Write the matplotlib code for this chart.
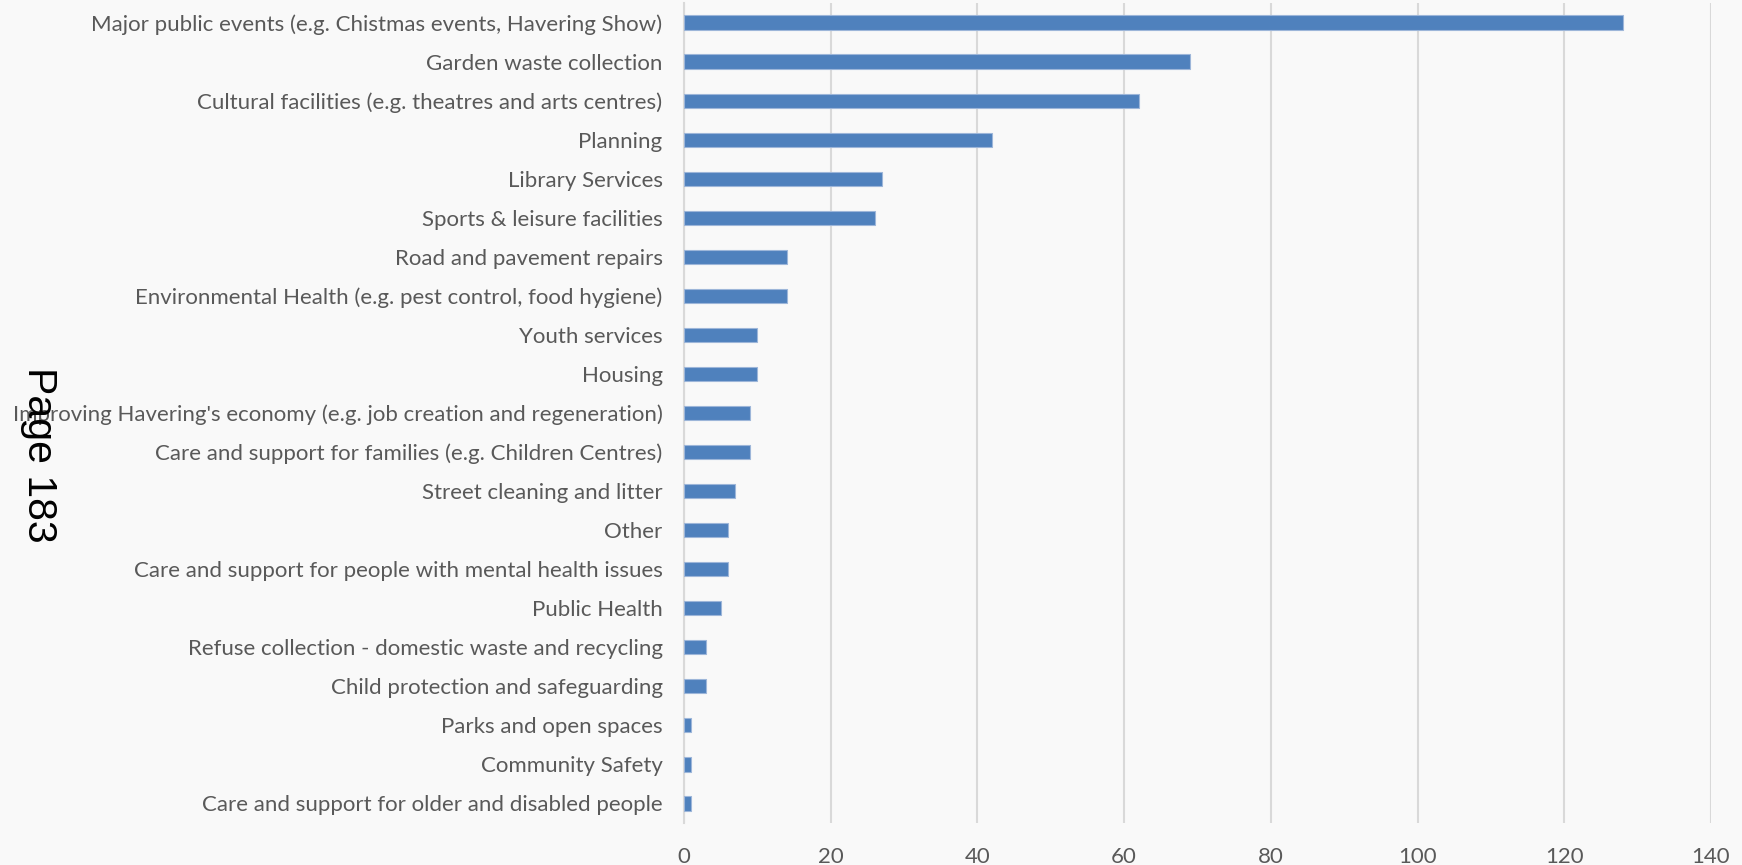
import matplotlib
matplotlib.use("Agg")
import matplotlib.pyplot as plt

# Services, listed top to bottom, and number of responses for each
services = [
    "Major public events (e.g. Chistmas events, Havering Show)",
    "Garden waste collection",
    "Cultural facilities (e.g. theatres and arts centres)",
    "Planning",
    "Library Services",
    "Sports & leisure facilities",
    "Road and pavement repairs",
    "Environmental Health (e.g. pest control, food hygiene)",
    "Youth services",
    "Housing",
    "Improving Havering's economy (e.g. job creation and regeneration)",
    "Care and support for families (e.g. Children Centres)",
    "Street cleaning and litter",
    "Other",
    "Care and support for people with mental health issues",
    "Public Health",
    "Refuse collection - domestic waste and recycling",
    "Child protection and safeguarding",
    "Parks and open spaces",
    "Community Safety",
    "Care and support for older and disabled people",
]
counts = [128, 69, 62, 42, 27, 26, 14, 14, 10, 10, 9, 9, 7, 6, 6, 5, 3, 3, 1, 1, 1]
x_ticks = [0, 20, 40, 60, 80, 100, 120, 140]

bg = "#f9f9f9"
fig = plt.figure(figsize=(17.42, 8.65), dpi=100, facecolor=bg)
ax = fig.add_axes([0.3927, 0.0486, 0.5895, 0.9479], facecolor=bg)

y = list(range(len(services)))
ax.barh(y, counts, height=0.365, color="#4f81bd", edgecolor="#9db6d9",
        linewidth=0.8, zorder=3)

ax.set_ylim(len(services) - 0.5, -0.5)
ax.set_xlim(0, 140)
ax.set_xticks(x_ticks)
ax.set_yticks(y)
ax.set_yticklabels(services)

ax.grid(axis="x", color="#d9d9d9", linewidth=1.5, zorder=0)
for side in ["top", "right", "bottom"]:
    ax.spines[side].set_visible(False)
ax.spines["left"].set_color("#d9d9d9")
ax.spines["left"].set_linewidth(1.5)
ax.tick_params(axis="both", length=0, colors="#595959", labelsize=16)
ax.tick_params(axis="y", pad=15.5)
ax.tick_params(axis="x", pad=17)
for lbl in ax.get_xticklabels() + ax.get_yticklabels():
    lbl.set_fontfamily("Lato")

# the page number stamped down the left margin
fig.text(0.0224, 0.474, "Page 183", rotation=-90, ha="center", va="center",
         fontsize=29.5, family="Liberation Sans", color="black")

fig.savefig("out.png", dpi=100, facecolor=bg)
